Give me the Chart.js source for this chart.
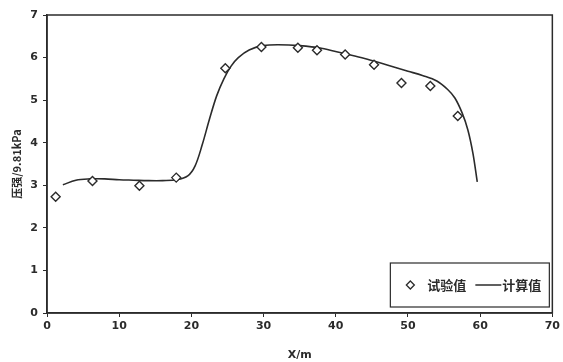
<!DOCTYPE html>
<html><head><meta charset="utf-8">
<script src="https://cdn.jsdelivr.net/npm/chart.js@4.4.0/dist/chart.umd.min.js"></script>
<style>html,body{margin:0;padding:0;background:#fff;}#wrap{width:563px;height:362px;position:relative;}</style>
</head><body><div id="wrap"><canvas id="c" width="563" height="362"></canvas></div>
<script>
const testX = [1.2, 6.3, 12.8, 17.9, 24.7, 29.7, 34.75, 37.4, 41.3, 45.3, 49.1, 53.1, 56.9];
const testY = [2.73, 3.10, 2.99, 3.18, 5.75, 6.25, 6.23, 6.17, 6.07, 5.83, 5.40, 5.33, 4.63];
const calcX = [2.2, 4, 6, 8, 10, 12, 14, 16, 18, 19.5, 20.5, 21.5, 22.5, 23.5, 24.5, 25.5, 26.5, 28, 30, 32, 35, 38, 41, 44, 47, 50, 52, 54, 55.5, 56.5, 57.5, 58.3, 59, 59.6];
const calcY = [3.01, 3.12, 3.15, 3.15, 3.13, 3.12, 3.11, 3.11, 3.13, 3.22, 3.45, 3.95, 4.55, 5.10, 5.50, 5.80, 6.00, 6.18, 6.28, 6.30, 6.28, 6.22, 6.10, 5.98, 5.83, 5.68, 5.58, 5.45, 5.25, 5.05, 4.70, 4.30, 3.75, 3.08];
const seriesNames = ['试验值', '计算值'];
const xTitle = 'X/m';
const yTitle = '压强/9.81kPa';

const INK = '#2b2b2b';
const tickFont = {family: 'DejaVu Sans', size: 11, weight: 'bold'};

const frame = {
  id: 'frame',
  afterDatasetsDraw(chart) {
    const {ctx, chartArea: a} = chart;
    ctx.save();
    ctx.strokeStyle = INK; ctx.lineWidth = 1.5;
    ctx.strokeRect(a.left, a.top, a.right - a.left, a.bottom - a.top);
    // legend box
    const r = a.right - 3, b = a.bottom - 6;
    const L = r - 159, T = b - 44;
    ctx.fillStyle = '#fff';
    ctx.fillRect(L, T, r - L, b - T);
    ctx.lineWidth = 1.2;
    ctx.strokeRect(L, T, r - L, b - T);
    const cy = (T + b) / 2;
    const dx = L + 20;
    ctx.beginPath();
    ctx.moveTo(dx, cy - 4); ctx.lineTo(dx + 4, cy); ctx.lineTo(dx, cy + 4); ctx.lineTo(dx - 4, cy); ctx.closePath();
    ctx.fillStyle = '#fff'; ctx.fill();
    ctx.lineWidth = 1.3; ctx.strokeStyle = INK; ctx.stroke();
    ctx.fillStyle = INK;
    ctx.font = 'bold 13px "Noto Sans CJK SC"';
    ctx.textBaseline = 'middle';
    ctx.textAlign = 'left';
    ctx.fillText(chart.data.datasets[0].label, L + 37, cy);
    ctx.beginPath(); ctx.lineWidth = 1.5;
    ctx.moveTo(L + 85, cy); ctx.lineTo(L + 111, cy); ctx.stroke();
    ctx.fillText(chart.data.datasets[1].label, L + 112, cy);
    ctx.restore();
  }
};

new Chart(document.getElementById('c'), {
  type: 'scatter',
  data: {
    datasets: [
      {
        label: seriesNames[0],
        data: testX.map((x, i) => ({x, y: testY[i]})),
        pointStyle: 'rectRot', pointRadius: 4.5, pointBorderWidth: 1.4,
        pointBackgroundColor: '#fff', pointBorderColor: INK, showLine: false, order: 0
      },
      {
        label: seriesNames[1],
        data: calcX.map((x, i) => ({x, y: calcY[i]})),
        showLine: true, pointRadius: 0, borderColor: INK, borderWidth: 1.6,
        tension: 0.35, order: 1
      }
    ]
  },
  options: {
    responsive: false, animation: false,
    layout: {padding: {top: 15, right: 8, left: 0, bottom: 0}},
    plugins: {legend: {display: false}, tooltip: {enabled: false}},
    scales: {
      x: {
        type: 'linear', min: 0, max: 70,
        ticks: {stepSize: 10, color: INK, font: tickFont, padding: 3},
        grid: {drawOnChartArea: false, drawTicks: true, tickLength: 4, color: INK, lineWidth: 1},
        border: {color: INK, width: 1.5},
        title: {display: true, text: xTitle, color: INK, font: {family: 'DejaVu Sans', size: 11, weight: 'bold'}, padding: {top: 6, bottom: 0}},
        afterFit: s => { s.height = 49; }
      },
      y: {
        min: 0, max: 7,
        ticks: {stepSize: 1, color: INK, font: tickFont, padding: 5},
        grid: {drawOnChartArea: false, drawTicks: true, tickLength: 4, color: INK, lineWidth: 1},
        border: {color: INK, width: 1.5},
        title: {display: true, text: yTitle, color: INK, font: {family: 'Noto Sans CJK SC', size: 11, weight: 'bold'}, padding: {top: 10, bottom: 2}},
        afterFit: s => { s.width = 47; }
      }
    }
  },
  plugins: [frame]
});
</script></body></html>
